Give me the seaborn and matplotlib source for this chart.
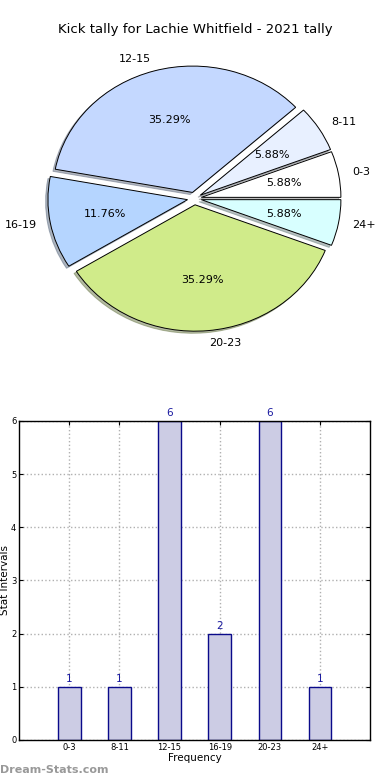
import matplotlib
matplotlib.use("Agg")
import matplotlib.pyplot as plt
import seaborn as sns
import pandas as pd

categories = ["0-3", "8-11", "12-15", "16-19", "20-23", "24+"]
values = [1, 1, 6, 2, 6, 1]
pie_colors = ["#ffffff", "#e8f0ff", "#c4d8ff", "#b5d5ff", "#d0eb8a", "#d8ffff"]
title = "Kick tally for Lachie Whitfield - 2021 tally"
yticks = [0, 1, 2, 3, 4, 5, 6]

sns.set_style("white")
plt.rcParams['font.family'] = ['DejaVu Sans']
plt.rcParams.update({"text.color": "black", "axes.labelcolor": "black",
                     "xtick.color": "black", "ytick.color": "black"})

fig = plt.figure(figsize=(3.9, 7.8), dpi=100)

# Pie
ax1 = fig.add_axes([0.051, 0.543, 0.895, 0.405])
wedges, texts, autotexts = ax1.pie(
    values, labels=categories, colors=pie_colors, autopct="%.2f%%",
    startangle=0, counterclock=True, explode=[0.05] * len(values),
    shadow=dict(ox=-0.012, oy=-0.012, shade=0.5),
    wedgeprops=dict(edgecolor="black", linewidth=0.7),
    textprops=dict(fontsize=8, color="black"))
ax1.set_aspect("auto")
ax1.set_xlim(-1.25, 1.25)
ax1.set_ylim(-1.25, 1.25)
fig.text(0.5, 1 - 30 / 780, title, ha="center", va="center", fontsize=9.5,
         color="black")

# Bar
ax2 = fig.add_axes([0.049, 0.0513, 0.9, 0.409])
df = pd.DataFrame({"cat": categories, "val": values})
sns.barplot(data=df, x="cat", y="val", ax=ax2, color="#ccccE4", width=0.45,
            edgecolor="#0a0a8a", linewidth=1.0, saturation=1, zorder=2)
for i, v in enumerate(values):
    ax2.text(i, v + 0.05, str(v), ha="center", va="bottom", fontsize=7.5,
             color="#1a1aa0")
ax2.set_xlim(-1, 6)
ax2.set_ylim(0, 6)
ax2.set_yticks(yticks)
ax2.tick_params(axis="both", labelsize=6, direction="in", length=3,
                top=True, right=True, bottom=True, left=True, pad=2)
ax2.grid(True, linestyle=":", color="#b0b0b0", linewidth=1.0, zorder=0)
ax2.set_axisbelow(True)
for s in ax2.spines.values():
    s.set_visible(True)
    s.set_color("black")
    s.set_linewidth(1.0)
ax2.set_xlabel("Frequency", fontsize=7.5, labelpad=1)
ax2.set_ylabel("Stat Intervals", fontsize=7.5, labelpad=1)

fig.text(0.0, 1 - 770 / 780, "Dream-Stats.com", ha="left", va="center",
         fontsize=8, color="#999999", fontweight="bold")

fig.savefig("out.png", dpi=100)
